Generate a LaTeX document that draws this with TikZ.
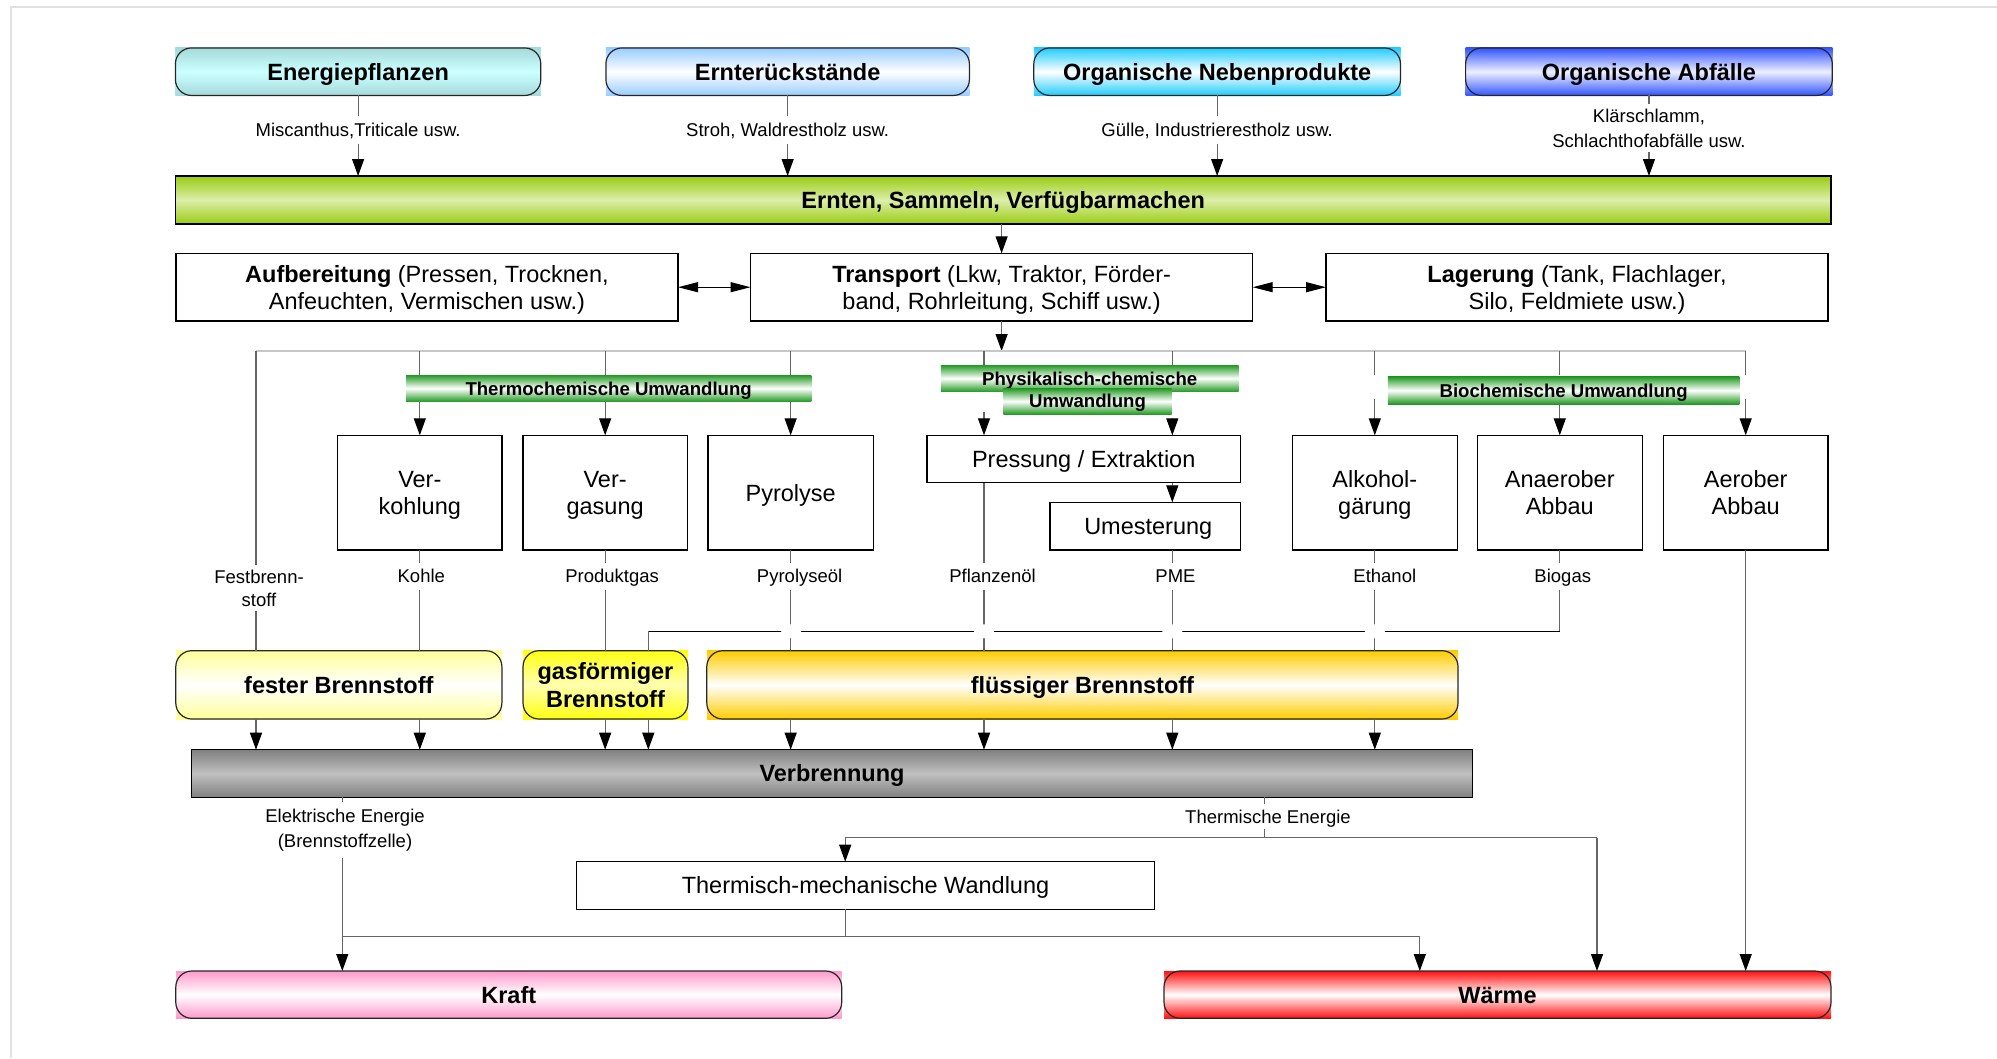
\documentclass[tikz,border=0pt]{standalone}
\usepackage{fontspec}
\setmainfont{Liberation Sans}
\usetikzlibrary{arrows.meta}
\definecolor{cEP}{HTML}{A6DADA}
\definecolor{cEPm}{HTML}{CCFFFF}
\definecolor{cER}{HTML}{99CCFF}
\definecolor{cON}{HTML}{22CCFF}
\definecolor{cOA}{HTML}{3355FF}
\definecolor{cOAm}{HTML}{EEF0FF}
\definecolor{cGr}{HTML}{99CC11}
\definecolor{cGrm}{HTML}{DDEEAA}
\definecolor{cBar}{HTML}{229922}
\definecolor{cFe}{HTML}{FFFF99}
\definecolor{cGa}{HTML}{FFFF11}
\definecolor{cGam}{HTML}{FFFFB0}
\definecolor{cFl}{HTML}{FFCC00}
\definecolor{cVb}{HTML}{808080}
\definecolor{cVbm}{HTML}{C0C0C0}
\definecolor{cKr}{HTML}{FF99CC}
\definecolor{cWa}{HTML}{FF1111}
\newcommand\fBig{\fontsize{23.5}{27}\selectfont}
\newcommand\fSm{\fontsize{18.5}{25}\selectfont}
\newcommand\fBar{\fontsize{18.6}{20.7}\selectfont\bfseries}
\begin{document}
\begin{tikzpicture}[x=1pt,y=-1pt,
  every node/.style={inner sep=0pt, outer sep=0pt},
  plainbox/.style={draw=black, line width=1.4pt, fill=white, align=center, font=\fBig, text height=16.8pt, text depth=0pt},
  twoline/.style={text height=43.8pt, text depth=0pt},
  pill/.style={align=center, font=\fBig\bfseries, text height=16.8pt, text depth=0pt},
  pillc/.style 2 args={top color=#1, bottom color=#1, middle color=#2},
  pilledge/.style={draw=black!85, line width=1.2pt, rounded corners=16pt},
  bandbox/.style={font=\fBar, top color=cBar, bottom color=cBar, middle color=white, align=center, text height=13.3pt, text depth=0pt},
  ln/.style={draw=black!60, line width=1.2pt},
  arr/.style={ln, -{Triangle[length=17pt,width=12pt,color=black]}},
  darr/.style={draw=black, line width=1.2pt, {Triangle[length=20pt,width=10pt]}-{Triangle[length=20pt,width=10pt]}},
  lab/.style={fill=white, font=\fSm, align=center, inner sep=5pt},
  lab1/.style={lab, text height=13.3pt, text depth=0pt, inner sep=7pt},
]
\useasboundingbox (0,0) rectangle (1997,1058);
\draw[black!12, line width=2pt] (11,1058) -- (11,7) -- (1997,7);

\coordinate (yTop) at (0,130);
\coordinate (yD) at (0,351);
\coordinate (yF) at (0,576.3);
\coordinate (yG) at (0,631.3);
\coordinate (fs) at (256,351);

% top sources
\node[pill, pillc={cEP}{cEPm}, minimum width=365.4pt, minimum height=47.5pt] (ep) at (358.1,71.7) {Energiepflanzen};
\node[pill, pillc={cER}{white}, minimum width=363.5pt, minimum height=47.5pt] (er) at (787.65,71.7) {Ernterückstände};
\node[pill, pillc={cON}{white}, minimum width=366.7pt, minimum height=47.5pt] (on) at (1217.15,71.7) {Organische Nebenprodukte};
\node[pill, pillc={cOA}{cOAm}, minimum width=366.7pt, minimum height=47.5pt] (oa) at (1648.95,71.7) {Organische Abfälle};
\foreach \n in {ep,er,on,oa} \draw[pilledge] (\n.south west) rectangle (\n.north east);

% harvest bar
\node[pill, pillc={cGr}{cGrm}, draw=black, line width=1.3pt, minimum width=1655.6pt, minimum height=48pt] (ern) at (1003.2,200) {Ernten, Sammeln, Verfügbarmachen};

\draw[arr] (ep.south) -- (ep.south |- ern.north);
\draw[arr] (er.south) -- (er.south |- ern.north);
\draw[arr] (on.south) -- (on.south |- ern.north);
\draw[arr] (oa.south) -- (oa.south |- ern.north);
\node[lab1] at (ep.south |- yTop) {Miscanthus,Triticale usw.};
\node[lab1] at (er.south |- yTop) {Stroh, Waldrestholz usw.};
\node[lab1] at (on.south |- yTop) {Gülle, Industrierestholz usw.};
\node[lab] at ([yshift=2pt]oa.south |- yTop) {Klärschlamm,\\Schlachthofabfälle usw.};

% row 2
\node[plainbox, twoline, minimum width=502.2pt, minimum height=67.7pt] (auf) at (426.9,287.2) {\textbf{Aufbereitung} (Pressen, Trocknen,\\Anfeuchten, Vermischen usw.)};
\node[plainbox, twoline, minimum width=502.2pt, minimum height=67.7pt] (tra) at (1001.6,287.2) {\textbf{Transport} (Lkw, Traktor, Förder-\\band, Rohrleitung, Schiff usw.)};
\node[plainbox, twoline, minimum width=502pt, minimum height=67.7pt] (lag) at (1577,287.2) {\textbf{Lagerung} (Tank, Flachlager,\\Silo, Feldmiete usw.)};
\draw[darr] (auf.east) -- (tra.west);
\draw[darr] (tra.east) -- (lag.west);
\draw[arr] (tra.north |- ern.south) -- (tra.north);
\draw[arr] (tra.south) -- (tra.south |- yD);

% distribution line
\draw[draw=black!22, line width=1.5pt] (fs) -- (1745.7,351);

% row 3 boxes
\node[plainbox, twoline, minimum width=164.2pt, minimum height=114.7pt] (verk) at (419.8,492.65) {Ver-\\kohlung};
\node[plainbox, twoline, minimum width=164.3pt, minimum height=114.7pt] (verg) at (605.15,492.65) {Ver-\\gasung};
\node[plainbox, minimum width=165.3pt, minimum height=114.7pt] (pyr) at (790.65,492.65) {Pyrolyse};
\node[plainbox, minimum width=313.8pt, minimum height=47.4pt] (pe) at (1083.7,459) {Pressung / Extraktion};
\node[plainbox, minimum width=190.7pt, minimum height=47.7pt] (um) at (1145.25,526.15) {\hspace*{6pt}Umesterung};
\node[plainbox, twoline, minimum width=165.2pt, minimum height=114.7pt] (alk) at (1374.8,492.65) {Alkohol-\\gärung};
\node[plainbox, twoline, minimum width=165.1pt, minimum height=114.7pt] (ana) at (1559.75,492.65) {Anaerober\\Abbau};
\node[plainbox, twoline, minimum width=164.6pt, minimum height=114.7pt] (aer) at (1745.7,492.65) {Aerober\\Abbau};

% downward lines from distribution
\draw[arr] (verk.north |- yD) -- (verk.north);
\draw[arr] (verg.north |- yD) -- (verg.north);
\draw[arr] (pyr.north |- yD) -- (pyr.north);
\draw[ln] (984,351) -- (984,365);
\draw[arr] (984,411.7) -- (984,435.3);
\draw[ln] (1172.3,351) -- (1172.3,365);
\draw[arr] (1172.3,418) -- (1172.3,435.3);
\draw[ln] (alk.north |- yD) -- (alk.north |- 0,375);
\draw[arr] (alk.north |- 0,399) -- (alk.north);
\draw[ln] (ana.north |- yD) -- (ana.north |- 0,375);
\draw[arr] (ana.north |- 0,399) -- (ana.north);
\draw[ln] (aer.north |- yD) -- (aer.north |- 0,375);
\draw[arr] (aer.north |- 0,399) -- (aer.north);
\draw[arr] (1172.3,482.7) -- (um.north -| 1172.3,0);

% green label bands
\node[bandbox, minimum width=405.3pt, minimum height=26.7pt] (thermo) at (608.65,388.35) {Thermochemische Umwandlung};
\node[bandbox, minimum width=297.8pt, minimum height=26.7pt] (phys) at (1089.7,378.35) {Physikalisch-chemische};
\node[bandbox, minimum width=168.4pt, minimum height=26pt] (phys2) at (1087.5,401.3) {Umwandlung};
\node[bandbox, minimum width=351.4pt, minimum height=27.3pt] (bio) at (1563.6,390.35) {Biochemische Umwandlung};

% fuel boxes
\node[pill, pillc={cFe}{white}, minimum width=326.1pt, minimum height=68.3pt] (fest) at (338.85,684.85) {fester Brennstoff};
\node[pill, pillc={cGa}{cGam}, text height=44.8pt, minimum width=164.9pt, minimum height=68.3pt] (gas) at (605.45,684.85) {gasförmiger\\[1pt]Brennstoff};
\node[pill, pillc={cFl}{white}, minimum width=751.2pt, minimum height=68.3pt] (fl) at (1082.4,684.85) {flüssiger Brennstoff};
\foreach \n in {fest,gas,fl} \draw[pilledge] (\n.south west) rectangle (\n.north east);

% product lines
\draw[ln] (fs) -- (fs |- fest.north);
\draw[ln] (verk.south) -- (verk.south |- fest.north);
\draw[ln] (verg.south) -- (verg.south |- gas.north);
\draw[ln] (pyr.south) -- (pyr.south |- fl.north);
\draw[ln] (984,482.7) -- (984,650.7);
\draw[ln] (um.south -| 1172.3,0) -- (1172.3,650.7);
\draw[ln] (alk.south) -- (alk.south |- fl.north);
\draw[ln] (ana.south) -- (ana.south |- yG);
\draw[draw=black, line width=1.6pt] (ana.south |- yG) -- (648.3,631.3);
\draw[ln] (648.3,631.3) -- (648.3,650.7);
\foreach \x in {791.2,984,1172.3,1374.8}
  \fill[white] (\x,631.3) ellipse [x radius=10, y radius=7];

\node[lab] at (259,588) {Festbrenn-\\[-2pt]stoff};
\node[lab1] at ([xshift=1.5pt]verk.south |- yF) {Kohle};
\node[lab1] at ([xshift=7pt]verg.south |- yF) {Produktgas};
\node[lab1] at ([xshift=9pt]pyr.south |- yF) {Pyrolyseöl};
\node[lab1] at (992.5,576.3) {Pflanzenöl};
\node[lab1] at (1175.5,576.3) {PME};
\node[lab1] at ([xshift=10pt]alk.south |- yF) {Ethanol};
\node[lab1] at ([xshift=3pt]ana.south |- yF) {Biogas};

% combustion
\node[pill, pillc={cVb}{cVbm}, draw=black, line width=1.3pt, minimum width=1281.4pt, minimum height=47.6pt] (vb) at (832,773.5) {Verbrennung};
\draw[arr] (fs |- fest.south) -- (fs |- vb.north);
\draw[arr] (verk.south |- fest.south) -- (verk.south |- vb.north);
\draw[arr] (verg.south |- gas.south) -- (verg.south |- vb.north);
\draw[arr] (648.3,719) -- (648.3,749.7);
\draw[arr] (pyr.south |- fl.south) -- (pyr.south |- vb.north);
\draw[arr] (984,719) -- (984,749.7);
\draw[arr] (1172.3,719) -- (1172.3,749.7);
\draw[arr] (alk.south |- fl.south) -- (alk.south |- vb.north);

% outputs
\node[pill, pillc={cKr}{white}, minimum width=665.9pt, minimum height=47.3pt] (kr) at (508.75,994.65) {Kraft};
\node[pill, pillc={cWa}{white}, minimum width=667pt, minimum height=47.3pt] (wa) at (1497.5,994.65) {Wärme};
\foreach \n in {kr,wa} \draw[pilledge] (\n.south west) rectangle (\n.north east);

\node[plainbox, line width=1.2pt, minimum width=578pt, minimum height=47.6pt] (tm) at (865.5,885.5) {Thermisch-mechanische Wandlung};

\coordinate (el) at (342.3,797.3);
\coordinate (th) at (1264.8,797.3);
\coordinate (ts) at (845.2,837.7);
\coordinate (te) at (1597,837.7);
\coordinate (ks) at (845.2,936.7);
\coordinate (kl) at (342.3,936.7);
\coordinate (ke) at (1419.8,936.7);

\draw[arr] (el) -- (el |- kr.north);
\draw[ln] (th) -- (th |- ts);
\draw[ln] (ts) -- (te);
\draw[arr] (ts) -- (ts |- tm.north);
\draw[arr] (te) -- (te |- wa.north);
\draw[ln] (ts |- tm.south) -- (ks);
\draw[ln] (kl) -- (ke);
\draw[arr] (ke) -- (ke |- wa.north);
\draw[arr] (aer.south) -- (aer.south |- wa.north);
\node[lab, inner sep=7pt] at (345,830) {Elektrische Energie\\(Brennstoffzelle)};
\node[lab1, inner sep=6pt] at (1268,816.7) {Thermische Energie};
\end{tikzpicture}
\end{document}
